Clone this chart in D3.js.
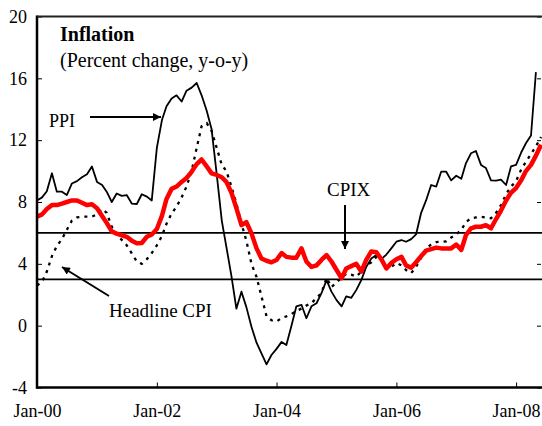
<!DOCTYPE html>
<html>
<head>
<meta charset="utf-8">
<script src="https://cdn.jsdelivr.net/npm/d3@7"></script>
<style>
  body { margin: 0; background: #fff; }
  svg { display: block; }
  text { font-family: "Liberation Serif", "Times New Roman", serif; fill: #000; }
</style>
</head>
<body>
<svg width="542" height="426"></svg>
<script>
// monthly, starting Jan-2000
var startMonth = new Date(2000, 0, 1);
var endMonth = new Date(2008, 5, 1);

var ppi = [8.1, 8.3, 8.7, 9.86, 8.67, 8.67, 8.45, 9.2, 9.35, 9.6, 9.8, 10.3,
  9.3, 9.1, 8.67, 8.0, 8.55, 8.4, 8.45, 7.9, 7.87, 8.5, 8.35, 8.1,
  11.5, 13.3, 14.2, 14.7, 14.9, 14.5, 15.2, 15.4, 15.7, 14.9, 13.9, 12.7,
  9.8, 6.8, 5.1, 3.2, 1.1, 2.2, 1.2, -0.07, -1.1, -1.8, -2.5, -1.9,
  -1.5, -1.05, -1.25, 0, 1.25, 1.35, 0.48, 1.25, 1.45, 2.1, 2.95, 2.2,
  1.65, 1.25, 1.9, 1.8, 2.3, 2.95, 3.8, 4.35, 4.57, 4.3, 4.6, 5.0,
  5.43, 5.54, 5.43, 5.6, 5.9, 7.3, 8.1, 9.1, 9.0, 9.96, 9.96, 9.4,
  9.7, 9.5, 10.5, 11.15, 11.3, 10.4, 10.2, 9.4, 9.38, 9.45, 9.1, 10.3,
  10.4, 11.2, 11.8, 12.3, 16.4];

var cpix = [7.05, 7.2, 7.55, 7.8, 7.8, 7.9, 8.0, 8.1, 8.1, 7.95, 7.8, 7.85,
  7.6, 7.1, 6.65, 6.1, 5.95, 5.85, 5.75, 5.5, 5.33, 5.35, 5.75, 5.9,
  6.25, 7.1, 8.2, 8.85, 9.0, 9.3, 9.55, 9.95, 10.45, 10.75, 10.3, 9.85,
  9.75, 9.6, 9.3, 8.6, 7.6, 6.5, 6.7, 5.97, 5.0, 4.35, 4.2, 4.1,
  4.25, 4.7, 4.45, 4.4, 4.4, 5.0, 4.15, 3.8, 3.9, 4.25, 4.57, 4.15,
  3.6, 3.07, 3.7, 3.85, 4.0, 3.5, 4.25, 4.8, 4.75, 4.3, 3.7, 4.05,
  4.3, 4.45, 3.9, 3.75, 4.1, 4.5, 4.85, 4.95, 5.05, 5.0, 5.0, 5.0,
  5.25, 4.9, 5.85, 6.3, 6.4, 6.4, 6.5, 6.3, 6.9, 7.45, 8.1, 8.6,
  8.9, 9.4, 10.0, 10.4, 11.0, 11.7];

var headline = [2.6, 2.85, 3.5, 4.5, 5.15, 5.6, 6.2, 6.8, 7.0, 7.05, 7.05, 7.05,
  7.2, 7.55, 7.3, 6.4, 5.9, 5.55, 5.2, 4.68, 4.15, 4.0, 4.3, 4.7,
  5.2, 5.8, 6.6, 7.25, 7.7, 8.3, 9.0, 10.0, 11.5, 12.9, 13.1, 12.6,
  11.5, 10.4, 10.0, 9.0, 7.9, 6.6, 5.5, 4.0, 3.15, 1.9, 0.6, 0.35,
  0.27, 0.5, 0.6, 0.75, 0.95, 1.1, 1.3, 1.45, 1.8, 2.1, 3.1, 2.5,
  2.8, 3.1, 3.35, 3.3, 3.17, 3.5, 3.9, 4.1, 4.45, 4.3, 3.7, 3.8,
  4.05, 3.9, 3.6, 3.4, 3.8, 4.4, 5.0, 5.25, 5.4, 5.43, 5.45, 5.7,
  5.9, 6.2, 6.7, 6.95, 7.0, 7.05, 7.0, 6.95, 7.3, 7.8, 8.5, 9.0,
  9.35, 10.1, 10.6, 11.1, 11.6, 12.2];

var targetBand = [6, 3];
var yTicks = [-4, 0, 4, 8, 12, 16, 20];
var xTickYears = [2000, 2002, 2004, 2006, 2008];

var svg = d3.select("svg"),
    pLeft = 37, pTop = 16.5, pRight = 541, pBottom = 387.5;

var x = d3.scaleTime().domain([startMonth, endMonth]).range([pLeft, pRight]);
var y = d3.scaleLinear().domain([-4, 20]).range([pBottom, pTop]);

function monthOf(i) { return d3.timeMonth.offset(startMonth, i); }

svg.append("clipPath").attr("id", "plot")
  .append("rect").attr("x", pLeft).attr("y", pTop).attr("width", 542 - pLeft).attr("height", pBottom - pTop);

// band lines at 3 and 6
svg.selectAll(".band").data(targetBand).enter().append("line")
    .attr("x1", pLeft).attr("x2", 542)
    .attr("y1", function(d) { return y(d); }).attr("y2", function(d) { return y(d); })
    .attr("stroke", "#000").attr("stroke-width", 1.7);

var line = d3.line()
    .x(function(d, i) { return x(monthOf(i)); })
    .y(function(d) { return y(d); });

var g = svg.append("g").attr("clip-path", "url(#plot)");

g.append("path").datum(headline)
    .attr("d", line).attr("fill", "none")
    .attr("stroke", "#000").attr("stroke-width", 2.3)
    .attr("stroke-dasharray", "3,5");

g.append("path").datum(ppi)
    .attr("d", line).attr("fill", "none")
    .attr("stroke", "#000").attr("stroke-width", 1.8)
    .attr("stroke-linejoin", "round");

g.append("path").datum(cpix)
    .attr("d", line).attr("fill", "none")
    .attr("stroke", "#ff0000").attr("stroke-width", 4.5)
    .attr("stroke-linejoin", "round");

// axes
var yAxis = svg.append("g").attr("transform", "translate(" + pLeft + ",0)")
    .call(d3.axisLeft(y).tickValues(yTicks).tickSize(-5).tickPadding(10)
      .tickFormat(function(d) { return String(d); }));
yAxis.select(".domain").attr("stroke-width", 2.5).attr("d", "M0," + (pTop - 1) + "V" + (pBottom + 1));
yAxis.selectAll("text").style("font-size", "18px");

var yAxisR = svg.append("g").attr("transform", "translate(" + pRight + ",0)")
    .call(d3.axisRight(y).tickValues(yTicks).tickSize(-4).tickFormat(""));
yAxisR.select(".domain").remove();

var xAxis = svg.append("g").attr("transform", "translate(0," + pBottom + ")")
    .call(d3.axisBottom(x)
      .tickValues(xTickYears.map(function(yr) { return new Date(yr, 0, 1); }))
      .tickSize(-5).tickPadding(17)
      .tickFormat(d3.timeFormat("%b-%y")));
xAxis.select(".domain").attr("stroke-width", 2.5).attr("d", "M" + (pLeft - 1) + ",0H542");
xAxis.selectAll("text").style("font-size", "18px");

svg.append("line").attr("x1", pLeft).attr("x2", 542).attr("y1", pTop).attr("y2", pTop)
    .attr("stroke", "#222").attr("stroke-width", 2);

// titles
svg.append("text").attr("x", 60).attr("y", 41).style("font-size", "20px").style("font-weight", "bold").text("Inflation");
svg.append("text").attr("x", 60).attr("y", 67).style("font-size", "20px").text("(Percent change, y-o-y)");

// annotations
var defs = svg.append("defs");
defs.append("marker").attr("id", "arr").attr("viewBox", "0 0 10 10")
    .attr("refX", 10).attr("refY", 5).attr("markerWidth", 10).attr("markerHeight", 8)
    .attr("markerUnits", "userSpaceOnUse").attr("orient", "auto")
  .append("path").attr("d", "M0,0L10,5L0,10Z").attr("fill", "#000");

var notes = [
  { label: "PPI", tx: 49, ty: 127, size: 18, a: [90, 117, 161, 117] },
  { label: "CPIX", tx: 327, ty: 196, size: 19, a: [345, 205, 345, 249] },
  { label: "Headline CPI", tx: 109, ty: 317, size: 19, a: [109, 296, 62, 267] }
];
notes.forEach(function(n) {
  svg.append("text").attr("x", n.tx).attr("y", n.ty).style("font-size", n.size + "px").text(n.label);
  svg.append("line").attr("x1", n.a[0]).attr("y1", n.a[1]).attr("x2", n.a[2]).attr("y2", n.a[3])
      .attr("stroke", "#000").attr("stroke-width", 2).attr("marker-end", "url(#arr)");
});
</script>
</body>
</html>
